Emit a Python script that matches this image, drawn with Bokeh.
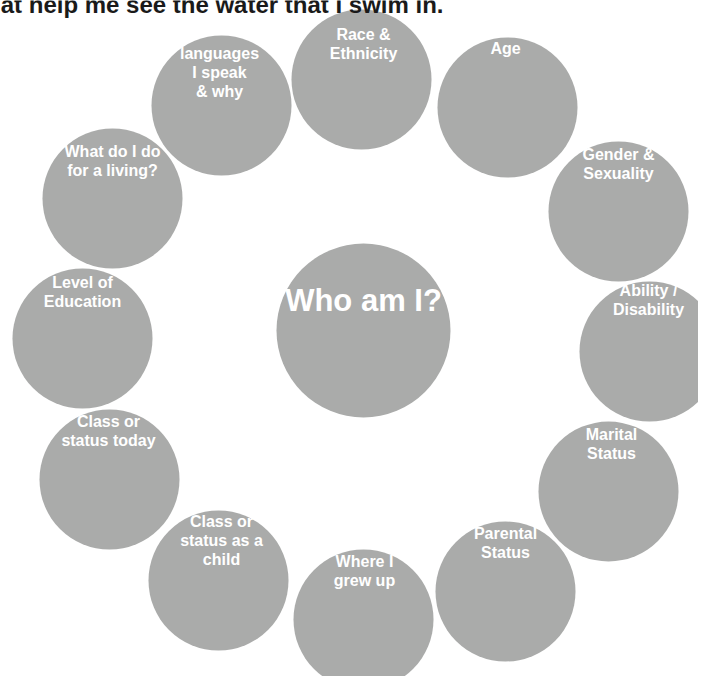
from bokeh.plotting import figure
from bokeh.models import Range1d, ColumnDataSource
from bokeh.core.properties import value
from bokeh.embed import file_html
from bokeh.resources import INLINE

# ---- data ----
labels = ["Race &\nEthnicity", "Age", "Gender &\nSexuality", "Ability /\nDisability",
          "Marital\nStatus", "Parental\nStatus", "Where I\ngrew up",
          "Class or\nstatus as a\nchild", "Class or\nstatus today", "Level of\nEducation",
          "What do I do\nfor a living?", "languages\nI speak\n& why"]
cx = [361, 507, 618, 649, 608, 505, 363, 218, 109, 82, 112, 221]
cy = [79, 107, 211, 351, 491, 591, 619, 580, 479, 338, 198, 105]
radii = [70, 70, 70, 70, 70, 70, 70, 70, 70, 70, 70, 70]

center_label = "Who am I?"
center_x = [363]
center_y = [330]
center_r = [87]

title_text = "that help me see the water that I swim in."

# label placement (first baseline below circle top, horizontal nudge)
label_dy = [32, 18, 20, 16, 20, 19, 19, 18, 19, 21, 30, 25]
label_dx = [2, -2, 0, -1, 3, 0, 1, 3, -1, 0, 0, -2]
line_h = 18.7
BASE_FIX = 0.41  # renderer baseline correction, fraction of font size

FILL = "#aaabaa"

p = figure(width=698, height=676, output_backend="svg", toolbar_location=None,
           x_range=Range1d(0, 698), y_range=Range1d(676, 0),
           min_border=0, background_fill_color="white", border_fill_color="white")
p.axis.visible = False
p.grid.visible = False
p.outline_line_color = None

p.circle(x=cx, y=cy, radius=radii, fill_color=FILL, line_color=None)
p.circle(x=center_x, y=center_y, radius=center_r, fill_color=FILL, line_color=None)

lx, ly, lt = [], [], []
for lab, x, y, r, dy, dx in zip(labels, cx, cy, radii, label_dy, label_dx):
    for i, line in enumerate(lab.split("\n")):
        lx.append(x + dx)
        ly.append(y - r + dy + i * line_h - BASE_FIX * 16)
        lt.append(line)
src = ColumnDataSource(dict(x=lx, y=ly, text=lt))
p.text(x="x", y="y", text="text", source=src, text_align="center",
       text_baseline="alphabetic", text_font=value("Liberation Sans"),
       text_font_size=value("16px"), text_font_style="bold", text_color="white")

p.text(x=center_x, y=[313 - BASE_FIX * 31], text=[center_label], text_align="center",
       text_baseline="alphabetic", text_font=value("Liberation Sans"),
       text_font_size=value("31px"), text_font_style="bold", text_color="white")

p.text(x=[443], y=[14 - BASE_FIX * 24], text=[title_text], text_align="right",
       text_baseline="alphabetic", text_font=value("Liberation Sans"),
       text_font_size=value("24px"), text_font_style="bold", text_color="#1a1a1a")

open("out.html", "w").write(file_html(p, INLINE))
